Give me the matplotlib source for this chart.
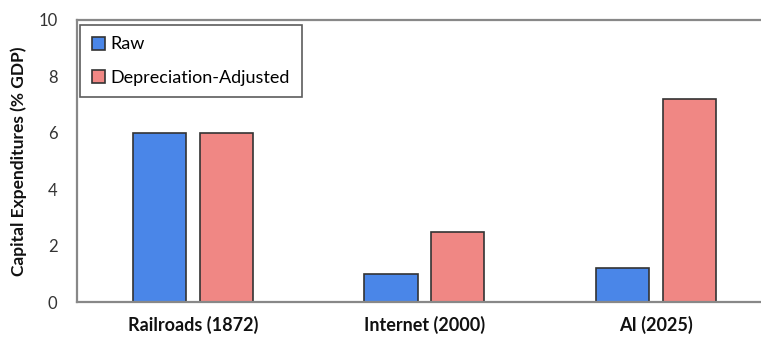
import numpy as np
import matplotlib.pyplot as plt

# capex as share of GDP for three investment booms
categories = ['Railroads (1872)', 'Internet (2000)', 'AI (2025)']
raw = [6.0, 1.0, 1.2]
adjusted = [6.0, 2.5, 7.2]

plt.rcParams['font.family'] = ['Lato', 'DejaVu Sans']

fig = plt.figure(figsize=(7.61, 3.39), dpi=100)
ax = fig.add_axes([0.1012, 0.1091, 0.913, 0.832])

x = np.arange(len(categories))
width = 0.23
offset = 0.144

ax.bar(x - offset, raw, width, color='#4a86e8', edgecolor='#333333',
       linewidth=1.2, label='Raw')
ax.bar(x + offset, adjusted, width, color='#f08784', edgecolor='#333333',
       linewidth=1.2, label='Depreciation-Adjusted')

ax.set_xlim(-0.5, 2.5)
ax.set_ylim(0, 10)
ax.set_yticks([0, 2, 4, 6, 8, 10])
ax.set_xticks(x)
ax.set_xticklabels(categories, fontsize=13, fontweight='bold', color='#111111')
ax.tick_params(axis='y', labelsize=12, labelcolor='#333333', length=0, pad=14)
ax.tick_params(axis='x', length=0, pad=10)

for side in ['left', 'top', 'bottom', 'right']:
    ax.spines[side].set_color('#888888')
    ax.spines[side].set_linewidth(1.6)

ax.set_ylabel('Capital Expenditures (% GDP)', fontsize=12.5, fontweight='bold',
              color='#111111', labelpad=8)

leg = ax.legend(loc='upper left', bbox_to_anchor=(0.004, 0.983), fontsize=13,
                frameon=True, fancybox=False, edgecolor='#333333',
                handlelength=0.75, handleheight=0.75, handletextpad=0.3,
                labelspacing=0.95, borderpad=0.65, borderaxespad=0)
leg.get_frame().set_linewidth(1.2)

fig.savefig('out.png', dpi=100)
